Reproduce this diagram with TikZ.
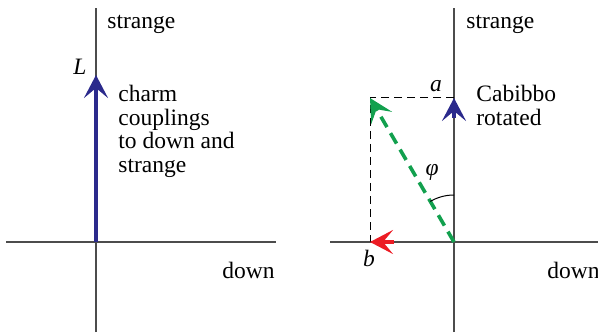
\documentclass[tikz,border=0pt]{standalone}
\usepackage{fontspec}
\setmainfont{Liberation Serif}
\usetikzlibrary{arrows.meta}
\definecolor{vecblue}{RGB}{43,42,140}
\definecolor{vecgreen}{RGB}{18,160,78}
\definecolor{vecred}{RGB}{236,28,36}
\begin{document}
\begin{tikzpicture}[x=0.5pt,y=0.5pt,
  axis/.style={draw=black!70,line width=0.75pt},
  tip/.style={-{Stealth[length=11.5pt,width=12pt,inset=5pt]}},
  lbl/.style={inner sep=0pt,font=\fontsize{11.75}{11.75}\selectfont}]
\useasboundingbox (0,0) rectangle (598,332);
\coordinate (o1) at (96,90);
\coordinate (s1) at (96,324);
\coordinate (n1) at (96,0);
\coordinate (w1) at (6,90);
\coordinate (e1) at (276,90);
\coordinate (l1) at (96,257);
\draw[axis] (n1) -- (s1);
\draw[axis] (w1) -- (e1);
\draw[vecblue,line width=2pt,tip] (o1) -- (l1);
\node[lbl] (labL) at (80,265) {\textit{L}};
\node[lbl,anchor=west] (st1) at (107,308) {strange};
\node[lbl,anchor=north west,align=left] (txt1) at (118,247) {charm\\couplings\\to down and\\strange};
\node[lbl,anchor=west] (dn1) at (222,62) {down};
\coordinate (o2) at (454,90);
\coordinate (s2) at (454,324);
\coordinate (n2) at (454,0);
\coordinate (w2) at (330,90);
\coordinate (e2) at (598,90);
\coordinate (pa) at (454,234);
\coordinate (pb) at (370,90);
\coordinate (pc) at (370,234);
\coordinate (qa) at (454,214);
\coordinate (qb) at (394,90);
\draw[axis] (n2) -- (s2);
\draw[axis] (w2) -- (e2);
\draw[line width=0.5pt,dash pattern=on 4pt off 2.5pt] (pa) -- (pc) -- (pb);
\draw[vecblue,line width=2pt,tip] (qa) -- (pa);
\draw[vecred,line width=2pt,tip] (qb) -- (pb);
\draw[vecgreen,line width=1.8pt,dash pattern=on 6pt off 3.5pt,tip] (o2) -- (pc);
\draw[line width=0.5pt] (o2) ++(0,47) arc[start angle=90,end angle=120.3,radius=47];
\node[lbl] (phi) at (432,160) {\textit{φ}};
\node[lbl] (laba) at (436,246) {\textit{a}};
\node[lbl] (labb) at (369,74) {\textit{b}};
\node[lbl,anchor=west] (st2) at (466,308) {strange};
\node[lbl,anchor=north west,align=left] (txt2) at (476,247) {Cabibbo\\rotated};
\node[lbl,anchor=west] (dn2) at (547,62) {down};
\end{tikzpicture}
\end{document}
